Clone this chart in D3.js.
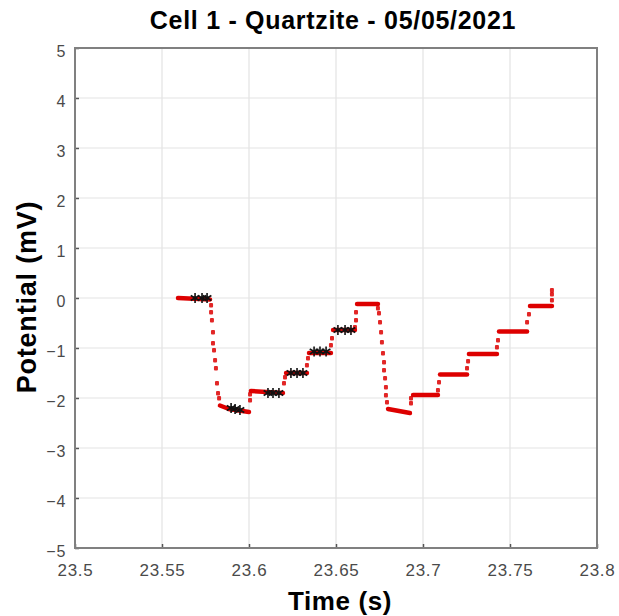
<!DOCTYPE html>
<html>
<head>
<meta charset="utf-8">
<style>
body { margin: 0; background: #fff; }
#chart { width: 619px; height: 616px; }
text { font-family: Arial, "Liberation Sans", Helvetica, sans-serif; }
.tick text { fill: #4a4a4a; }
</style>
</head>
<body>
<div id="chart"></div>
<script src="https://cdn.jsdelivr.net/npm/d3@7/dist/d3.min.js"></script>
<script>
// flat runs of the red series: [t start, t end, v start, v end]
var runs = [
    [23.5592, 23.5776, 0.00, -0.03],
    [23.5833, 23.5885, -2.15, -2.22],
    [23.5885, 23.6000, -2.22, -2.28],
    [23.6011, 23.6195, -1.86, -1.90],
    [23.6213, 23.6333, -1.50, -1.50],
    [23.6345, 23.6471, -1.10, -1.10],
    [23.6483, 23.6609, -0.64, -0.64],
    [23.6621, 23.6741, -0.12, -0.12],
    [23.6799, 23.6925, -2.22, -2.30],
    [23.6943, 23.7086, -1.94, -1.94],
    [23.7098, 23.7253, -1.53, -1.53],
    [23.7264, 23.7425, -1.12, -1.12],
    [23.7437, 23.7598, -0.67, -0.67],
    [23.7615, 23.7741, -0.16, -0.16]
];
// scattered red samples on the drops and steps: [t, v]
var stepPts = [
    [23.5782, -0.14], [23.5782, -0.28], [23.5787, -0.44], [23.5793, -0.68],
    [23.5793, -0.90], [23.5799, -1.04], [23.5805, -1.24], [23.5810, -1.40],
    [23.5816, -1.70], [23.5822, -1.90], [23.5828, -2.00],
    [23.6006, -2.04], [23.6006, -1.92],
    [23.6201, -1.70], [23.6207, -1.58],
    [23.6333, -1.34], [23.6339, -1.20],
    [23.6471, -0.94], [23.6477, -0.80],
    [23.6609, -0.58], [23.6615, -0.44], [23.6615, -0.28],
    [23.6741, -0.20], [23.6747, -0.30], [23.6753, -0.48], [23.6759, -0.68],
    [23.6764, -0.88], [23.6770, -1.10], [23.6776, -1.28], [23.6776, -1.44],
    [23.6782, -1.60], [23.6787, -1.78], [23.6787, -1.94], [23.6793, -2.08],
    [23.6931, -2.10], [23.6931, -2.00],
    [23.7086, -1.84], [23.7092, -1.68],
    [23.7253, -1.40], [23.7259, -1.26],
    [23.7425, -0.98], [23.7431, -0.84],
    [23.7598, -0.48], [23.7609, -0.32],
    [23.7741, -0.04], [23.7741, 0.08], [23.7741, 0.16]
];
// black asterisk markers
var markT = [23.5690, 23.5730, 23.5759, 23.5897, 23.5920, 23.5948,
             23.6109, 23.6138, 23.6172, 23.6241, 23.6276, 23.6310,
             23.6374, 23.6408, 23.6443, 23.6511, 23.6552, 23.6586];
var markV = [0, 0, 0, -2.20, -2.22, -2.24,
             -1.90, -1.90, -1.90, -1.50, -1.50, -1.50,
             -1.07, -1.07, -1.07, -0.64, -0.64, -0.64];

var xTicks = [23.5, 23.55, 23.6, 23.65, 23.7, 23.75, 23.8];
var yTicks = [-5, -4, -3, -2, -1, 0, 1, 2, 3, 4, 5];

var title = "Cell 1 - Quartzite - 05/05/2021";
var xTitle = "Time (s)";
var yTitle = "Potential (mV)";

var width = 619, height = 616;
var plotL = 75, plotR = 597, plotT = 48, plotB = 548;
var red = "#dd0000";

var svg = d3.select("#chart").append("svg")
    .attr("width", width)
    .attr("height", height);

var x = d3.scaleLinear().domain([23.5, 23.8]).range([plotL, plotR]);
var y = d3.scaleLinear().domain([-5, 5]).range([plotB, plotT]);

// grid
svg.append("g").selectAll("line")
    .data(xTicks.slice(1, -1))
    .enter().append("line")
    .attr("x1", function(d) { return x(d); })
    .attr("x2", function(d) { return x(d); })
    .attr("y1", plotT).attr("y2", plotB)
    .attr("stroke", "#e3e3e3").attr("stroke-width", 1.2);
svg.append("g").selectAll("line")
    .data(yTicks.slice(1, -1))
    .enter().append("line")
    .attr("y1", function(d) { return y(d); })
    .attr("y2", function(d) { return y(d); })
    .attr("x1", plotL).attr("x2", plotR)
    .attr("stroke", "#e3e3e3").attr("stroke-width", 1.2);

// axes
var xAxis = svg.append("g")
    .attr("transform", "translate(0," + plotB + ")")
    .call(d3.axisBottom(x).tickValues(xTicks).tickSizeInner(-4).tickSizeOuter(0).tickPadding(16)
        .tickFormat(function(d) { return String(+d.toFixed(2)); }));
var yAxis = svg.append("g")
    .attr("transform", "translate(" + plotL + ",0)")
    .call(d3.axisLeft(y).tickValues(yTicks).tickSizeInner(-4).tickSizeOuter(0).tickPadding(9)
        .tickFormat(d3.format("d")));

[xAxis, yAxis].forEach(function(a) {
    a.select(".domain").remove();
    a.selectAll(".tick line").attr("stroke", "#555").attr("stroke-width", 1.5);
    a.selectAll(".tick text").attr("font-size", 17).style("letter-spacing", "0.7px");
});
yAxis.selectAll(".tick text").attr("dy", "0.5em").attr("font-size", 16);

// box
svg.append("rect")
    .attr("x", plotL).attr("y", plotT)
    .attr("width", plotR - plotL).attr("height", plotB - plotT)
    .attr("fill", "none").attr("stroke", "#808080").attr("stroke-width", 2);

// red series
svg.append("g").selectAll("line")
    .data(runs)
    .enter().append("line")
    .attr("x1", function(d) { return x(d[0]); })
    .attr("x2", function(d) { return x(d[1]); })
    .attr("y1", function(d) { return y(d[2]); })
    .attr("y2", function(d) { return y(d[3]); })
    .attr("stroke", red).attr("stroke-width", 4.5)
    .attr("stroke-linecap", "round");

svg.append("g").selectAll("rect")
    .data(stepPts)
    .enter().append("rect")
    .attr("x", function(d) { return x(d[0]) - 2; })
    .attr("y", function(d) { return y(d[1]) - 2; })
    .attr("width", 4).attr("height", 4.5)
    .attr("rx", 1)
    .attr("fill", red).attr("opacity", 0.85);

// black markers
var star = d3.symbol().type(d3.symbolAsterisk || d3.symbolCross).size(70);
svg.append("g").selectAll("path")
    .data(markT)
    .enter().append("path")
    .attr("d", star)
    .attr("transform", function(d, i) { return "translate(" + x(d) + "," + y(markV[i]) + ")"; })
    .attr("fill", "none").attr("stroke", "#111").attr("stroke-width", 1.6);

// titles
svg.append("text")
    .attr("x", 333).attr("y", 29)
    .attr("text-anchor", "middle")
    .attr("font-size", 25).attr("font-weight", "bold")
    .style("letter-spacing", "0.7px")
    .text(title);
svg.append("text")
    .attr("x", 340).attr("y", 610)
    .attr("text-anchor", "middle")
    .attr("font-size", 26).attr("font-weight", "bold")
    .style("letter-spacing", "0.6px")
    .text(xTitle);
svg.append("text")
    .attr("transform", "translate(36,297)rotate(-90)")
    .attr("text-anchor", "middle")
    .attr("font-size", 27).attr("font-weight", "bold")
    .style("letter-spacing", "0.8px")
    .text(yTitle);
</script>
</body>
</html>
